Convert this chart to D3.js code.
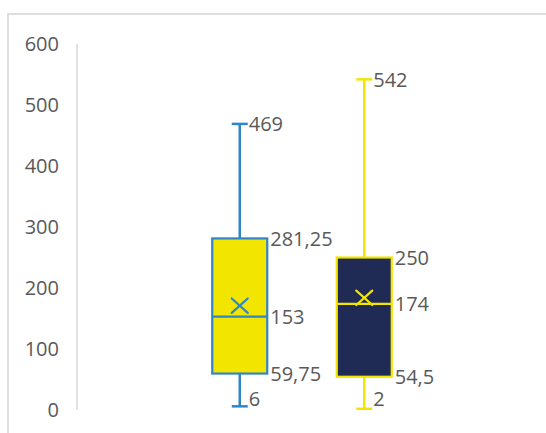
<!DOCTYPE html>
<html>
<head>
<meta charset="utf-8">
<script src="https://cdn.jsdelivr.net/npm/d3@7"></script>
<style>
	body { margin: 0; background: #fff; }
	svg text { font-family: 'Open Sans', sans-serif; fill: #595959; }
</style>
</head>
<body>
<div class="chart"></div>
<script>
	// box plot data (two series, one category)
	const series = ['Série 1', 'Série 2'];
	const mins = [6, 2];
	const q1s = [59.75, 54.5];
	const medians = [153, 174];
	const q3s = [281.25, 250];
	const maxs = [469, 542];
	const means = [171, 184];
	const yTicks = [0, 100, 200, 300, 400, 500, 600];

	const fills = ['#F2E600', '#1F2A55'];
	const strokes = ['#2E86C8', '#F2E600'];

	const width = 546;
	const height = 433;

	const svg = d3.select('.chart').append('svg').attr('width', width).attr('height', height);

	// chart frame
	svg.append('rect')
		.attr('x', 8).attr('y', 14)
		.attr('width', width).attr('height', height)
		.attr('fill', 'none')
		.attr('stroke', '#dedede')
		.attr('stroke-width', 2);

	const y = d3.scaleLinear().domain([0, 600]).range([410, 44]);
	const x = d3.scalePoint().domain(series).range([77, 527]).padding(1.307);
	const boxW = 55;
	const capW = 16;

	// y axis
	svg.append('line')
		.attr('x1', 77).attr('x2', 77)
		.attr('y1', y(600)).attr('y2', y(0))
		.attr('stroke', '#d9d9d9')
		.attr('stroke-width', 1.5);

	svg.selectAll('.ytick')
		.data(yTicks)
		.enter()
		.append('text')
		.attr('class', 'ytick')
		.attr('x', 59)
		.attr('y', d => y(d) + 2)
		.attr('text-anchor', 'end')
		.attr('dominant-baseline', 'middle')
		.style('font-size', '20px')
		.text(d => d);

	const fmt = v => String(v).replace('.', ',');

	const boxes = series.map((s, i) => ({
		s, i, min: mins[i], q1: q1s[i], med: medians[i], q3: q3s[i], max: maxs[i], mean: means[i]
	}));

	const g = svg.selectAll('.box')
		.data(boxes)
		.enter()
		.append('g')
		.attr('class', 'box');

	// whiskers
	g.append('line')
		.attr('x1', d => x(d.s)).attr('x2', d => x(d.s))
		.attr('y1', d => y(d.max)).attr('y2', d => y(d.q3))
		.attr('stroke', d => strokes[d.i]).attr('stroke-width', 2.5);
	g.append('line')
		.attr('x1', d => x(d.s)).attr('x2', d => x(d.s))
		.attr('y1', d => y(d.q1)).attr('y2', d => y(d.min))
		.attr('stroke', d => strokes[d.i]).attr('stroke-width', 2.5);

	// caps
	['max', 'min'].forEach(k => {
		g.append('line')
			.attr('x1', d => x(d.s) - capW / 2).attr('x2', d => x(d.s) + capW / 2)
			.attr('y1', d => y(d[k])).attr('y2', d => y(d[k]))
			.attr('stroke', d => strokes[d.i]).attr('stroke-width', 2.5);
	});

	// box
	g.append('rect')
		.attr('x', d => x(d.s) - boxW / 2)
		.attr('y', d => y(d.q3))
		.attr('width', boxW)
		.attr('height', d => y(d.q1) - y(d.q3))
		.attr('fill', d => fills[d.i])
		.attr('stroke', d => strokes[d.i])
		.attr('stroke-width', 2.2);

	// median
	g.append('line')
		.attr('x1', d => x(d.s) - boxW / 2).attr('x2', d => x(d.s) + boxW / 2)
		.attr('y1', d => y(d.med)).attr('y2', d => y(d.med))
		.attr('stroke', d => strokes[d.i]).attr('stroke-width', 2.2);

	// mean marker (x)
	const m = 8;
	[[-1, -1, 1, 1], [-1, 1, 1, -1]].forEach(c => {
		g.append('line')
			.attr('x1', d => x(d.s) + c[0] * m).attr('x2', d => x(d.s) + c[2] * m)
			.attr('y1', d => y(d.mean) + c[1] * m * 0.9).attr('y2', d => y(d.mean) + c[3] * m * 0.9)
			.attr('stroke', d => strokes[d.i]).attr('stroke-width', 2.2)
			.attr('stroke-linecap', 'round');
	});

	// data labels
	const labels = [];
	boxes.forEach(d => {
		labels.push({ v: d.max, x: x(d.s) + capW / 2 + 1 });
		labels.push({ v: d.q3, x: x(d.s) + boxW / 2 + 3 });
		labels.push({ v: d.med, x: x(d.s) + boxW / 2 + 3 });
		labels.push({ v: d.q1, x: x(d.s) + boxW / 2 + 3 });
		labels.push({ v: d.min, x: x(d.s) + capW / 2 + 1 });
	});

	svg.selectAll('.lbl')
		.data(labels)
		.enter()
		.append('text')
		.attr('class', 'lbl')
		.attr('x', d => d.x)
		.attr('y', d => Math.min(y(d.v) + 2, 401))
		.attr('dominant-baseline', 'middle')
		.style('font-size', '20px')
		.text(d => fmt(d.v));
</script>
</body>
</html>
